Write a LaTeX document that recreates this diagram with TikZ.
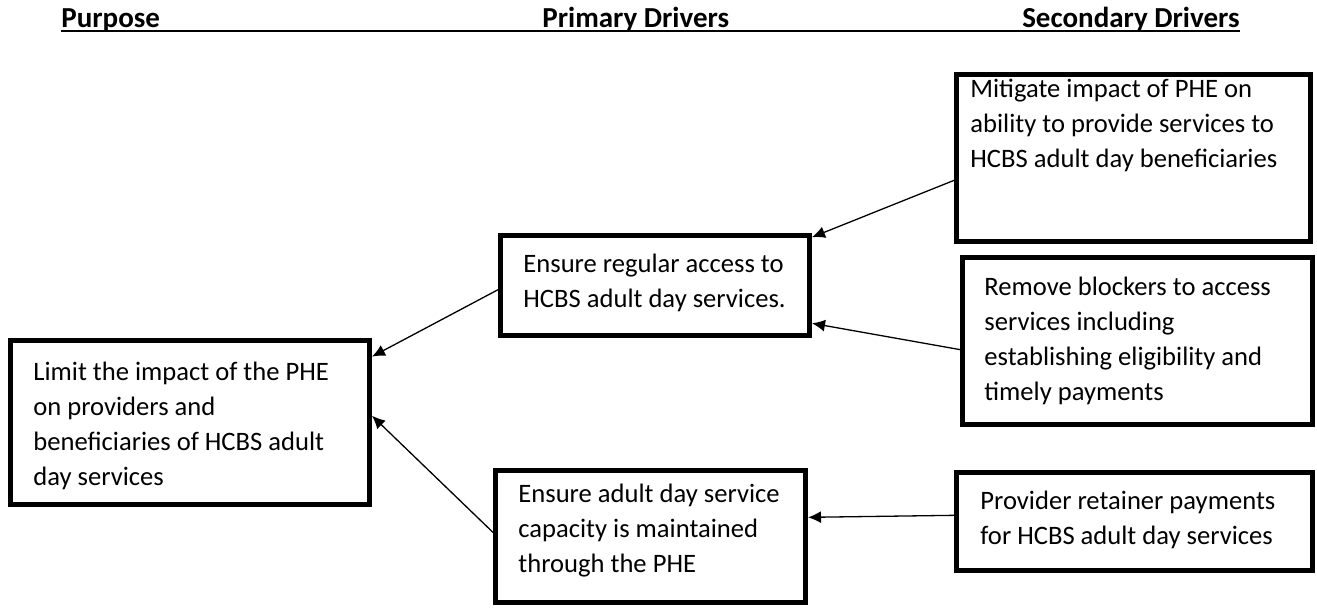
\documentclass[tikz,border=0pt]{standalone}
\usepackage{fontspec}
\setmainfont{Carlito}
\usetikzlibrary{fit,calc,arrows.meta}
\begin{document}
\begin{tikzpicture}[x=0.5pt,y=-0.5pt,
  box/.style={draw, line width=2.5pt, inner sep=0pt, outer sep=1.25pt, rectangle},
  % texts are placed by the baseline of their last line
  txt/.style={anchor=base west, inner sep=0pt, align=left,
              font=\fontsize{13.3pt}{17.5pt}\selectfont},
  hdr/.style={inner sep=0pt, font=\fontsize{14.5pt}{17pt}\selectfont\bfseries},
  uline/.style={line width=1pt},
  link/.style={line width=0.65pt, -{Latex[length=6.5pt,width=6pt]}}]
\useasboundingbox (0,0) rectangle (1317,607);

% column headings, one rule running under the whole heading line
\node[hdr, anchor=base west] (h1) at (61,27) {Purpose};
\node[hdr, anchor=base west] (h2) at (542,27) {Primary Drivers};
\node[hdr, anchor=base east] (h3) at (1240,27) {Secondary Drivers};
\draw[uline] ([yshift=-2pt]h1.base west) -- ([yshift=-2pt]h3.base east);

% boxes
\node[box, fit={(10.5,340.5) (369.5,504.5)}] (l) {};
\node[box, fit={(500.5,235.5) (809.5,335.5)}] (a) {};
\node[box, fit={(495.5,470.5) (805.5,602.5)}] (b) {};
\node[box, fit={(956.5,74.5) (1310.5,241.5)}] (s1) {};
\node[box, fit={(962.5,257.5) (1312.5,424.5)}] (s2) {};
\node[box, fit={(956.5,472.5) (1312.5,570.5)}] (s3) {};

% box texts
\node[txt] (lt) at (33,485) {Limit the impact of the PHE\\on providers and\\beneficiaries of HCBS adult\\day services};
\node[txt] (at) at (523,307) {Ensure regular access to\\HCBS adult day services.};
\node[txt] (bt) at (518,572) {Ensure adult day service\\capacity is maintained\\through the PHE};
\node[txt] (s1t) at (970,167) {Mitigate impact of PHE on\\ability to provide services to\\HCBS adult day beneficiaries};
\node[txt] (s2t) at (984,400) {Remove blockers to access\\services including\\establishing eligibility and\\timely payments};
\node[txt] (s3t) at (980,544) {Provider retainer payments\\for HCBS adult day services};

% connectors
\draw[link] ($(s1.north west)!0.63!(s1.south west)$) -- ($(a.north east)!0.04!(a.south east)$);
\draw[link] ($(s2.north west)!0.55!(s2.south west)$) -- ($(a.north east)!0.86!(a.south east)$);
\draw[link] ($(a.north west)!0.54!(a.south west)$) -- ($(l.north east)!0.11!(l.south east)$);
\draw[link] ($(b.north west)!0.47!(b.south west)$) -- ($(l.north east)!0.46!(l.south east)$);
\draw[link] ($(s3.north west)!0.44!(s3.south west)$) -- ($(b.north east)!0.36!(b.south east)$);
\end{tikzpicture}
\end{document}
